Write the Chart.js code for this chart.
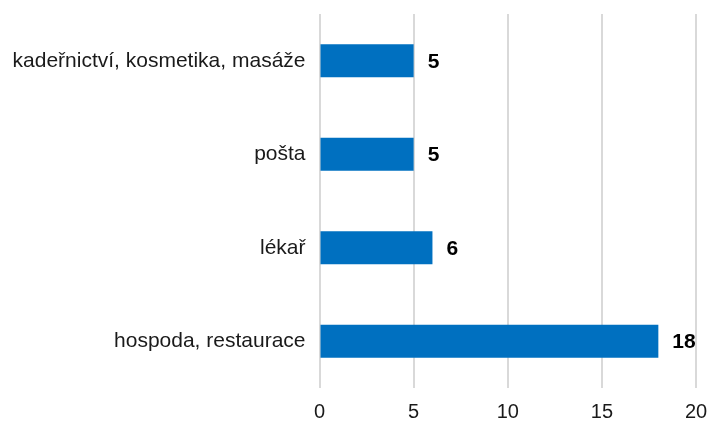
<!DOCTYPE html>
<html>
<head>
<meta charset="utf-8">
<script src="https://cdn.jsdelivr.net/npm/chart.js@4"></script>
<style>
  html, body { margin: 0; padding: 0; background: #fff; }
  #wrap { width: 708px; height: 424px; }
</style>
</head>
<body>
<div id="wrap"><canvas id="c" width="708" height="424"></canvas></div>
<script>
const categories = ["kadeřnictví, kosmetika, masáže", "pošta", "lékař", "hospoda, restaurace"];
const values = [5, 5, 6, 18];
const xTicks = [0, 5, 10, 15, 20];

const fontFamily = "'Liberation Sans', Arial, sans-serif";

// popisky hodnot vpravo od sloupců
const valueLabels = {
  id: "valueLabels",
  afterDatasetsDraw(chart) {
    const ctx = chart.ctx;
    const meta = chart.getDatasetMeta(0);
    ctx.save();
    ctx.font = "bold 21px " + fontFamily;
    ctx.fillStyle = "#000";
    ctx.textAlign = "left";
    ctx.textBaseline = "middle";
    meta.data.forEach((bar, i) => {
      ctx.fillText(String(values[i]), bar.x + 14, bar.y + 1);
    });
    ctx.restore();
  }
};

// bez automatického odsazení kvůli popiskům na okrajích
function noEdgePadding(axis) {
  axis.paddingTop = 0;
  axis.paddingBottom = 0;
  axis.paddingLeft = 0;
  axis.paddingRight = 0;
}

new Chart(document.getElementById("c"), {
  type: "bar",
  data: {
    labels: categories,
    datasets: [{
      data: values,
      backgroundColor: "#0070C0",
      borderWidth: 0,
      barPercentage: 0.353,
      categoryPercentage: 1
    }]
  },
  options: {
    indexAxis: "y",
    responsive: false,
    animation: false,
    layout: { padding: { left: 0, right: 12, top: 14, bottom: 0 } },
    plugins: { legend: { display: false }, tooltip: { enabled: false } },
    scales: {
      x: {
        min: 0, max: 20,
        afterBuildTicks: axis => { axis.ticks = xTicks.map(v => ({ value: v })); },
        grid: { color: "#d9d9d9", lineWidth: 2, drawTicks: false },
        border: { display: false },
        ticks: { color: "#1a1a1a", padding: 12, font: { family: fontFamily, size: 20 } },
        afterFit: axis => { axis.height = 36; noEdgePadding(axis); }
      },
      y: {
        grid: { display: false, drawTicks: false },
        border: { display: false },
        ticks: { color: "#1a1a1a", padding: 14, font: { family: fontFamily, size: 21 } },
        afterFit: axis => { axis.width = 319.5; noEdgePadding(axis); }
      }
    }
  },
  plugins: [valueLabels]
});
</script>
</body>
</html>
